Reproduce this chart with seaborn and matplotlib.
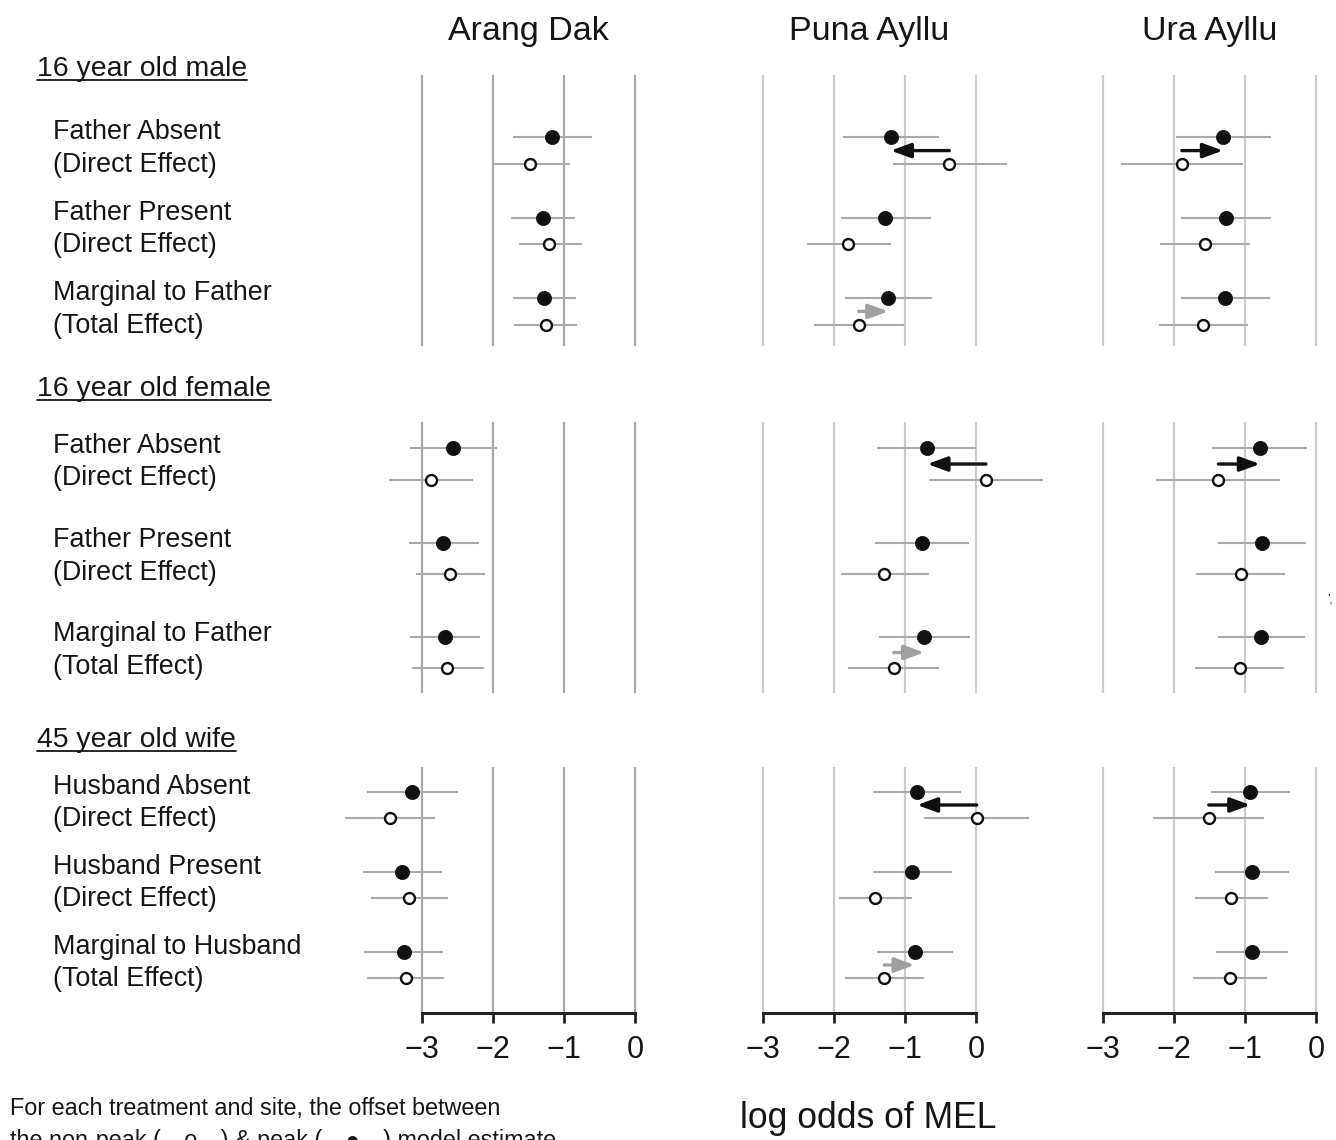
import matplotlib
matplotlib.use("Agg")
import pandas as pd
import matplotlib.pyplot as plt
from matplotlib.lines import Line2D
from matplotlib.transforms import blended_transform_factory, offset_copy
import seaborn as sns

# ---- data (log odds of MEL) ----
sites = ["Arang Dak", "Puna Ayllu", "Ura Ayllu"]
groups = ["16 year old male", "16 year old female", "45 year old wife"]

male_treatments = ["Father Absent\n(Direct Effect)", "Father Present\n(Direct Effect)",
                   "Marginal to Father\n(Total Effect)"]
female_treatments = ["Father Absent\n(Direct Effect)", "Father Present\n(Direct Effect)",
                     "Marginal to Father\n(Total Effect)"]
wife_treatments = ["Husband Absent\n(Direct Effect)", "Husband Present\n(Direct Effect)",
                   "Marginal to Husband\n(Total Effect)"]

# one row per site (Arang Dak, Puna Ayllu, Ura Ayllu), one column per treatment
male_peak = [[-1.165, -1.30, -1.28], [-1.20, -1.28, -1.235], [-1.31, -1.27, -1.28]]
male_peak_lo = [[-1.72, -1.75, -1.72], [-1.88, -1.905, -1.845], [-1.975, -1.905, -1.905]]
male_peak_hi = [[-0.60, -0.845, -0.83], [-0.52, -0.64, -0.625], [-0.635, -0.635, -0.65]]
male_nonpeak = [[-1.475, -1.21, -1.25], [-0.375, -1.80, -1.65], [-1.89, -1.57, -1.59]]
male_nonpeak_lo = [[-2.02, -1.64, -1.70], [-1.165, -2.385, -2.28], [-2.75, -2.20, -2.21]]
male_nonpeak_hi = [[-0.915, -0.75, -0.81], [0.43, -1.20, -1.01], [-1.03, -0.935, -0.955]]

female_peak = [[-2.56, -2.70, -2.675], [-0.685, -0.765, -0.73], [-0.79, -0.765, -0.77]]
female_peak_lo = [[-3.165, -3.19, -3.17], [-1.39, -1.42, -1.36], [-1.46, -1.375, -1.38]]
female_peak_hi = [[-1.95, -2.20, -2.18], [0.0, -0.095, -0.085], [-0.12, -0.145, -0.155]]
female_nonpeak = [[-2.87, -2.60, -2.65], [0.14, -1.29, -1.16], [-1.375, -1.06, -1.075]]
female_nonpeak_lo = [[-3.46, -3.09, -3.14], [-0.66, -1.905, -1.80], [-2.25, -1.685, -1.70]]
female_nonpeak_hi = [[-2.28, -2.11, -2.12], [0.94, -0.66, -0.52], [-0.51, -0.43, -0.45]]

wife_peak = [[-3.14, -3.28, -3.25], [-0.83, -0.90, -0.865], [-0.925, -0.90, -0.905]]
wife_peak_lo = [[-3.78, -3.83, -3.81], [-1.445, -1.455, -1.40], [-1.48, -1.42, -1.41]]
wife_peak_hi = [[-2.49, -2.72, -2.70], [-0.21, -0.34, -0.33], [-0.37, -0.38, -0.40]]
wife_nonpeak = [[-3.45, -3.18, -3.225], [0.01, -1.42, -1.29], [-1.51, -1.20, -1.21]]
wife_nonpeak_lo = [[-4.08, -3.72, -3.77], [-0.73, -1.93, -1.84], [-2.30, -1.71, -1.73]]
wife_nonpeak_hi = [[-2.81, -2.64, -2.685], [0.75, -0.905, -0.73], [-0.73, -0.675, -0.69]]

# shifts highlighted with an arrow: (site, treatment index, significant?)
shift_sites = ["Puna Ayllu", "Puna Ayllu", "Ura Ayllu"]
shift_treatments = [0, 2, 0]
shift_significant = [True, False, True]

xticks = [-3, -2, -1, 0]

# ---- tidy table ----
group_data = {
    "16 year old male": (male_treatments, male_peak, male_peak_lo, male_peak_hi,
                         male_nonpeak, male_nonpeak_lo, male_nonpeak_hi),
    "16 year old female": (female_treatments, female_peak, female_peak_lo, female_peak_hi,
                           female_nonpeak, female_nonpeak_lo, female_nonpeak_hi),
    "45 year old wife": (wife_treatments, wife_peak, wife_peak_lo, wife_peak_hi,
                         wife_nonpeak, wife_nonpeak_lo, wife_nonpeak_hi),
}
rows = []
for g in groups:
    tr, pk, pl, ph, nk, nl, nh = group_data[g]
    for si, s in enumerate(sites):
        for ti in range(3):
            rows.append(dict(group=g, site=s, t=ti, model="peak",
                             est=pk[si][ti], lo=pl[si][ti], hi=ph[si][ti]))
            rows.append(dict(group=g, site=s, t=ti, model="non-peak",
                             est=nk[si][ti], lo=nl[si][ti], hi=nh[si][ti]))
df = pd.DataFrame(rows)
OFFSET = 0.165
df["y"] = df["t"] + df["model"].map({"peak": -OFFSET, "non-peak": OFFSET})

# ---- style / layout ----
sns.set_style("white")
plt.rcParams["font.family"] = ["Liberation Sans", "DejaVu Sans"]
TXT = "#161616"

W, H = 1336, 1140
fig = plt.figure(figsize=(W / 100, H / 100), dpi=100)

def fx(px):
    return px / W

def fy(py):
    return 1 - py / H

PXU = 71.0                      # pixels per log-odds unit
XMIN, XMAX = -4.3, 1.1
col_m3 = [422, 763, 1103]       # pixel position of x = -3 per column
row_box = [(75, 346, -0.94, 2.43), (422, 693, -0.446, 2.43), (767, 1013, -0.475, 2.6)]
grid_cols = ["#a8a8a8", "#cbcbcb", "#cbcbcb"]

axes = [[None] * 3 for _ in range(3)]
for r, g in enumerate(groups):
    top, bot, ytop, ybot = row_box[r]
    for c, s in enumerate(sites):
        left = col_m3[c] + (XMIN + 3) * PXU
        ax = fig.add_axes([fx(left), fy(bot), (XMAX - XMIN) * PXU / W, (bot - top) / H])
        axes[r][c] = ax
        ax.patch.set_alpha(0)
        ax.set_xlim(XMIN, XMAX)
        ax.set_ylim(ybot, ytop)
        ax.set_xticks(xticks)
        ax.set_yticks([])
        ax.grid(axis="x", color=grid_cols[c], lw=1.6)
        ax.grid(axis="y", visible=False)
        ax.set_axisbelow(True)
        for sp in ax.spines.values():
            sp.set_visible(False)

        cell = df[(df.group == g) & (df.site == s)]
        ax.hlines(cell["y"], cell["lo"], cell["hi"], color="#aaaaaa", lw=1.5, zorder=2)
        sns.scatterplot(data=cell[cell.model == "peak"], x="est", y="y", ax=ax,
                        color="#111111", edgecolor="#111111", s=105, linewidth=0.5,
                        zorder=4, legend=False)
        sns.scatterplot(data=cell[cell.model == "non-peak"], x="est", y="y", ax=ax,
                        color="white", edgecolor="#111111", s=62, linewidth=1.7,
                        zorder=4, legend=False)

        for ss, st, sig in zip(shift_sites, shift_treatments, shift_significant):
            if ss != s:
                continue
            start = cell[(cell.t == st) & (cell.model == "non-peak")]["est"].iloc[0]
            end = cell[(cell.t == st) & (cell.model == "peak")]["est"].iloc[0]
            ax.annotate("", xy=(end, st), xytext=(start, st),
                        arrowprops=dict(arrowstyle="-|>,head_length=0.6,head_width=0.22",
                                        mutation_scale=20, lw=2.4,
                                        color="#111111" if sig else "#a0a0a0",
                                        shrinkA=0, shrinkB=0), zorder=5)

        ax.set_xlabel("")
        ax.set_ylabel("")
        if r == 2:
            ax.spines["bottom"].set_visible(True)
            ax.spines["bottom"].set_bounds(-3, 0)
            ax.spines["bottom"].set_linewidth(2.2)
            ax.spines["bottom"].set_color("#222222")
            ax.set_xticklabels([f"{v}".replace("-", "\u2212") for v in xticks])
            ax.tick_params(axis="x", bottom=True, length=7, width=2, color="#222222",
                           labelsize=22, pad=9, labelcolor=TXT)
        else:
            ax.tick_params(axis="x", bottom=False, labelbottom=False)

    # treatment labels to the left of the first column
    ax0 = axes[r][0]
    trans = offset_copy(blended_transform_factory(fig.transFigure, ax0.transData),
                        fig=fig, y=2, units="dots")
    for ti, lab in enumerate(group_data[g][0]):
        ax0.text(fx(53), ti, lab, transform=trans, ha="left", va="center",
                 fontsize=19.4, linespacing=1.34, color=TXT)

# column titles
for c, s in enumerate(sites):
    fig.text(fx(col_m3[c] + 1.5 * PXU), fy(40), s, ha="center", va="baseline",
             fontsize=24.5, color=TXT)

# group headings, underlined
row_baselines = [76, 396, 747]
heads = []
for g, b in zip(groups, row_baselines):
    heads.append((fig.text(fx(37), fy(b), g, ha="left", va="baseline",
                           fontsize=20.4, color=TXT), b))

fig.text(fx(868), fy(1128), "log odds of MEL", ha="center", va="baseline",
         fontsize=25.6, color=TXT)
fig.text(fx(10), fy(1115), "For each treatment and site, the offset between",
         ha="left", va="baseline", fontsize=16.8, color=TXT)
fig.text(fx(10), fy(1147), "the non-peak (\u2014o\u2014) & peak (\u2014\u25cf\u2014) model estimate",
         ha="left", va="baseline", fontsize=16.8, color=TXT)
# small stray glyph at the right edge of the middle row
fig.text(fx(1327), fy(603), "\u2019\u201a", ha="left", va="baseline",
         fontsize=9, color=TXT)

fig.canvas.draw()
renderer = fig.canvas.get_renderer()
for t, b in heads:
    bb = t.get_window_extent(renderer)
    fig.add_artist(Line2D([bb.x0 / W, bb.x1 / W], [fy(b + 4)] * 2,
                          transform=fig.transFigure, color=TXT, lw=1.3))

fig.savefig("out.png", dpi=100)
